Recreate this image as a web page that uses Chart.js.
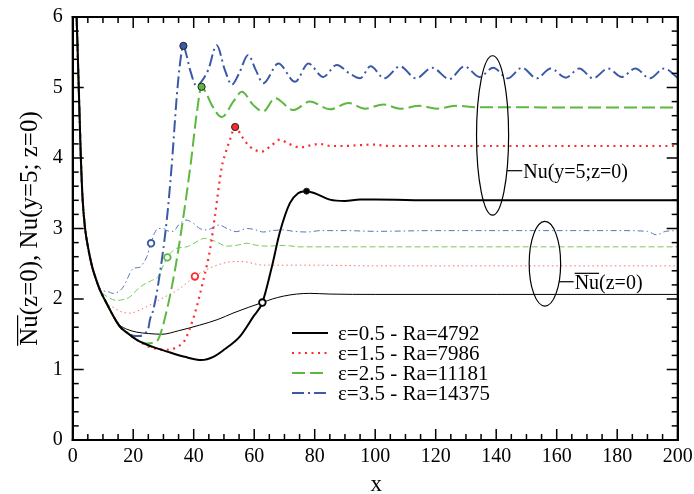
<!DOCTYPE html>
<html>
<head>
<meta charset="utf-8">
<script src="https://cdn.jsdelivr.net/npm/chart.js@4.4.1/dist/chart.umd.min.js"></script>
<style>
  html, body { margin: 0; padding: 0; background: #fff; }
  #wrap { position: relative; width: 694px; height: 494px; }
  #wrap canvas { position: absolute; left: 0; top: 0; display: block; }
  #box { position: absolute; border: 2px solid #000; box-sizing: border-box; pointer-events: none; }
</style>
</head>
<body>
<div id="wrap">
  <canvas id="nuChart" width="694" height="494"></canvas>
  <div id="box"></div>
</div>
<script>
// Nu(y=5;z=0) curves (thick) and mean Nu(z=0) curves (thin)
const xLocal05 = [1.3, 2.0, 2.7, 3.3, 4.1, 5, 6.3, 7.4, 9, 11.2, 13.4, 15.6, 18, 21.2, 26.5, 32.2, 37, 42.6, 46.5, 50,
    55.3, 59.7, 62.7, 65.8, 68.5, 71.8, 74.5, 77.3, 80, 85, 90, 95, 100, 120, 160, 200];
const yLocal05 = [6, 5, 4, 3.4, 3.0, 2.75, 2.48, 2.32, 2.13, 1.94, 1.76, 1.61, 1.52, 1.42, 1.32, 1.24, 1.18, 1.135, 1.18, 1.28,
    1.47, 1.75, 1.95, 2.45, 2.95, 3.36, 3.50, 3.53, 3.50, 3.41, 3.39, 3.41, 3.41, 3.40, 3.40, 3.40];

const xMean05 = [1.3, 2.0, 2.7, 3.3, 4.1, 5, 6.3, 7.4, 9, 11.2, 13.4, 15.6, 18, 21.2, 25, 29.5, 35, 42, 48, 53,
    58, 62.7, 66, 69.6, 74, 78.4, 85, 100, 140, 200];
const yMean05 = [6, 5, 4, 3.4, 3.0, 2.75, 2.48, 2.32, 2.13, 1.94, 1.76, 1.63, 1.57, 1.53, 1.51, 1.50, 1.55, 1.63, 1.71, 1.80,
    1.88, 1.95, 2.00, 2.04, 2.07, 2.08, 2.07, 2.065, 2.065, 2.065];

const xLocal15 = [1.3, 2.0, 2.7, 3.3, 4.1, 5, 6.3, 7.4, 9, 11.2, 13.4, 15.6, 18, 21.2, 26.1, 31.6, 34.5, 37.1, 40.4, 43.2,
    45.4, 47, 49.3, 50.3, 52, 53.7, 56, 58.6, 62.5, 65.5, 68.5, 71.5, 75.1, 78.5, 81.7, 85.5, 89.4, 94, 99, 105,
    120, 160, 200];
const yLocal15 = [6, 5, 4, 3.4, 3.0, 2.75, 2.48, 2.32, 2.13, 1.94, 1.76, 1.61, 1.52, 1.42, 1.31, 1.28, 1.32, 1.42, 1.80, 2.27,
    2.70, 3.17, 3.88, 4.04, 4.26, 4.44, 4.30, 4.16, 4.09, 4.17, 4.26, 4.20, 4.15, 4.18, 4.20, 4.17, 4.17, 4.18, 4.19, 4.17,
    4.17, 4.17, 4.17];

const xMean15 = [1.3, 2.0, 2.7, 3.3, 4.1, 5, 6.3, 7.4, 9, 11.2, 13.4, 16, 18.9, 22, 26.6, 30, 34.4, 37.5, 40.4, 43.5,
    46.5, 50, 53, 56.4, 60, 63, 70, 80, 100, 140, 200];
const yMean15 = [6, 5, 4, 3.4, 3.0, 2.75, 2.48, 2.32, 2.13, 1.94, 1.88, 1.82, 1.80, 1.84, 1.94, 2.02, 2.12, 2.22, 2.32, 2.40,
    2.46, 2.51, 2.53, 2.53, 2.50, 2.48, 2.48, 2.48, 2.47, 2.47, 2.47];

const xLocal25 = [1.3, 2.0, 2.7, 3.3, 4.1, 5, 6.3, 7.4, 9, 11.2, 13.4, 15.6, 18, 21.2, 24.5, 26.5, 28.3, 31.1, 33.8, 36.6,
    39.1, 41, 42.6, 44, 46, 49.3, 53.1, 55.9, 59.7, 63, 66.9, 72.9, 78.4, 85, 91.2, 96.6, 102.7, 108.2, 114.8, 120.3,
    127, 133.6, 140, 170, 200];
const yLocal25 = [6, 5, 4, 3.4, 3.0, 2.75, 2.48, 2.32, 2.13, 1.94, 1.76, 1.61, 1.52, 1.42, 1.37, 1.38, 1.43, 1.84, 2.41, 3.17,
    3.95, 4.63, 5.01, 4.93, 4.75, 4.58, 4.80, 4.94, 4.75, 4.66, 4.85, 4.68, 4.80, 4.69, 4.78, 4.70, 4.76, 4.70, 4.74, 4.70,
    4.74, 4.72, 4.72, 4.715, 4.715];

const xMean25 = [1.3, 2.0, 2.7, 3.3, 4.1, 5, 6.3, 7.4, 9, 10.5, 12.3, 14.5, 16.5, 18.9, 21, 23.3, 26, 28.3, 30, 31.3,
    33, 34.4, 37.7, 40.5, 43.5, 47, 50.9, 54, 57.5, 61, 64, 70, 75, 100, 140, 200];
const yMean25 = [6, 5, 4, 3.4, 3.0, 2.75, 2.48, 2.32, 2.13, 2.06, 2.01, 1.98, 1.99, 2.03, 2.12, 2.20, 2.26, 2.32, 2.48, 2.59,
    2.68, 2.72, 2.74, 2.80, 2.86, 2.82, 2.75, 2.76, 2.79, 2.76, 2.75, 2.76, 2.74, 2.74, 2.74, 2.74];

const xLocal35 = [1.3, 2.0, 2.7, 3.3, 4.1, 5, 6.3, 7.4, 9, 11.2, 13.4, 15.6, 18, 20, 22.2, 24, 25, 25.5, 26.6, 28.3,
    31.1, 32.7, 34.4, 35.5, 36.6, 37.5, 38.8, 41, 42.5, 44.8, 47.6, 50.3, 52.6, 55, 58, 60.5, 63, 68, 73.5, 77.9,
    82.8, 87.3, 91.5, 95, 98.5, 103, 108.2, 113.5, 118.8, 124.5, 129.5, 134.5, 139, 143.8, 148.5, 153.4, 158, 163, 167.5, 172,
    177, 181.5, 186, 190.8, 195.5, 200];
const yLocal35 = [6, 5, 4, 3.4, 3.0, 2.75, 2.48, 2.32, 2.13, 1.94, 1.76, 1.61, 1.52, 1.48, 1.475, 1.52, 1.58, 1.70, 1.84, 2.22,
    3.12, 3.88, 4.87, 5.35, 5.59, 5.48, 5.25, 5.02, 5.08, 5.25, 5.60, 5.25, 5.04, 5.20, 5.46, 5.25, 5.06, 5.34, 5.08, 5.34,
    5.15, 5.32, 5.20, 5.13, 5.30, 5.13, 5.30, 5.13, 5.28, 5.12, 5.30, 5.15, 5.28, 5.13, 5.28, 5.13, 5.27, 5.14, 5.27, 5.13,
    5.27, 5.15, 5.27, 5.13, 5.27, 5.14];

const xMean35 = [1.3, 2.0, 2.7, 3.3, 4.1, 5, 6.3, 7.4, 9, 11.2, 13.4, 15, 16.7, 18.2, 19.5, 20.5, 22.2, 23.5, 24.5, 25.9,
    27, 28.3, 30, 31.1, 33.3, 35, 37.4, 40, 42, 44.3, 48.4, 51, 54, 57.7, 60.5, 63, 66, 69.6, 73, 77.4,
    82, 90, 100, 120, 140, 160, 180, 190, 193, 196, 200];
const yMean35 = [6, 5, 4, 3.4, 3.0, 2.75, 2.48, 2.32, 2.13, 2.11, 2.08, 2.10, 2.17, 2.30, 2.41, 2.44, 2.45, 2.52, 2.60, 2.79,
    2.93, 3.00, 3.00, 2.97, 2.96, 3.05, 3.12, 3.07, 3.00, 2.98, 3.05, 3.00, 2.955, 3.00, 2.98, 2.95, 2.97, 2.98, 2.96, 2.95,
    2.97, 2.97, 2.96, 2.97, 2.97, 2.97, 2.97, 2.96, 2.91, 2.96, 2.97];

// markers: first peak of the local curves, and crossing points on the mean curves
const peakX = [77.3, 53.7, 42.6, 36.6];
const peakY = [3.53, 4.44, 5.01, 5.59];
const markX = [62.7, 40.4, 31.3, 25.9];
const markY = [1.95, 2.32, 2.59, 2.79];

const seriesLabels = ['ε=0.5 - Ra=4792', 'ε=1.5 - Ra=7986', 'ε=2.5 - Ra=11181', 'ε=3.5 - Ra=14375'];
const xTicks = [0, 20, 40, 60, 80, 100, 120, 140, 160, 180, 200];
const yTicks = [0, 1, 2, 3, 4, 5, 6];

const FONT = '"Liberation Serif", "Times New Roman", serif';
const colors = ['#000000', '#ff2a2a', '#5cb840', '#3a5aa8'];
const thinColors = ['#000000', '#ff6a6a', '#78c85c', '#5a74bb'];
const thickDash = [[], [2, 4.5], [13, 5], [12, 4, 2, 4]];
const thinDash = [[], [1.5, 3], [6, 3], [6, 3, 1.5, 3]];

const pts = (xs, ys) => xs.map((x, i) => ({ x: x, y: ys[i] }));

const localData = [pts(xLocal05, yLocal05), pts(xLocal15, yLocal15), pts(xLocal25, yLocal25), pts(xLocal35, yLocal35)];
const meanData = [pts(xMean05, yMean05), pts(xMean15, yMean15), pts(xMean25, yMean25), pts(xMean35, yMean35)];

const lineDatasets = [];
meanData.forEach((d, i) => lineDatasets.push({
    data: d,
    borderColor: thinColors[i],
    borderWidth: 1,
    borderDash: thinDash[i],
    pointRadius: 0,
    cubicInterpolationMode: 'monotone',
    order: 3
}));
localData.forEach((d, i) => lineDatasets.push({
    data: d,
    borderColor: colors[i],
    borderWidth: i === 1 ? 2.2 : 2,
    borderDash: thickDash[i],
    pointRadius: 0,
    cubicInterpolationMode: 'monotone',
    order: 2
}));

const markerDatasets = [
    {
        data: pts(peakX, peakY),
        showLine: false,
        pointRadius: [3, 3.6, 3.6, 3.6],
        pointBackgroundColor: colors,
        pointBorderColor: '#222',
        pointBorderWidth: 1,
        order: 1
    },
    {
        data: pts(markX, markY),
        showLine: false,
        pointRadius: 3.3,
        pointBackgroundColor: '#ffffff',
        pointBorderColor: colors,
        pointBorderWidth: 1.8,
        order: 1
    }
];

function overlined(ctx, bar, rest, x, y, size) {
    ctx.fillText(bar, x, y);
    const w = ctx.measureText(bar).width;
    if (w > 0) ctx.fillRect(x, y - size * 0.8, w, 1.2);
    ctx.fillText(rest, x + w, y);
}

// box round the plot with inward major/minor ticks
function drawFrame(ctx, a, x, y) {
    ctx.save();
    ctx.fillStyle = '#000';
    for (let v = 0; v <= 200; v += 5) {
        const px = x.getPixelForValue(v);
        const len = v % 20 === 0 ? 11 : 6;
        ctx.fillRect(px - 0.75, a.bottom - len, 1.5, len);
        ctx.fillRect(px - 0.75, a.top, 1.5, len);
    }
    for (let i = 0; i <= 30; i++) {
        const py = y.getPixelForValue(i * 0.2);
        const len = i % 5 === 0 ? 11 : 6;
        ctx.fillRect(a.left, py - 0.75, len, 1.5);
        ctx.fillRect(a.right - len, py - 0.75, len, 1.5);
    }
    ctx.fillRect(a.left - 1, a.top - 1, a.right - a.left + 2, 2);
    ctx.fillRect(a.left - 1, a.bottom - 1, a.right - a.left + 2, 2);
    ctx.fillRect(a.left - 1, a.top - 1, 2, a.bottom - a.top + 2);
    ctx.fillRect(a.right - 1, a.top - 1, 2, a.bottom - a.top + 2);
    ctx.restore();
}

// frame, axis titles, legend and ellipse labels
const decor = {
    id: 'decor',
    afterDraw(chart) {
        const { ctx, chartArea: a, scales: { x, y } } = chart;
        drawFrame(ctx, a, x, y);
        ctx.save();
        ctx.strokeStyle = '#000';
        ctx.fillStyle = '#000';

        // ellipses round the two groups of curves
        ctx.lineWidth = 1.2;
        const groups = [
            { cx: 138.8, cy: 4.32, rx: 5.3, ry: 1.13, ly: 3.82, tx: 148.6, bar: '', text: 'Nu(y=5;z=0)' },
            { cx: 156.1, cy: 2.50, rx: 5.2, ry: 0.60, ly: 2.245, tx: 165.6, bar: 'Nu', text: '(z=0)' }
        ];
        ctx.font = '20px ' + FONT;
        ctx.textBaseline = 'alphabetic';
        ctx.textAlign = 'left';
        groups.forEach(g => {
            const cx = x.getPixelForValue(g.cx);
            const cy = y.getPixelForValue(g.cy);
            const rx = x.getPixelForValue(g.cx + g.rx) - cx;
            const ry = cy - y.getPixelForValue(g.cy + g.ry);
            ctx.beginPath();
            ctx.ellipse(cx, cy, rx, ry, 0, 0, Math.PI * 2);
            ctx.stroke();
            const ly = y.getPixelForValue(g.ly);
            const dx = rx * Math.sqrt(1 - Math.pow((ly - cy) / ry, 2));
            const tx = x.getPixelForValue(g.tx);
            ctx.beginPath();
            ctx.moveTo(cx + dx, ly);
            ctx.lineTo(tx, ly);
            ctx.stroke();
            overlined(ctx, g.bar, g.text, tx + 1, ly + 7, 20);
        });

        // legend
        ctx.font = '21px ' + FONT;
        seriesLabels.forEach((label, i) => {
            const ly = 333 + i * 20;
            ctx.save();
            ctx.strokeStyle = colors[i];
            ctx.lineWidth = 2;
            ctx.setLineDash(thickDash[i]);
            ctx.beginPath();
            ctx.moveTo(292, ly);
            ctx.lineTo(328, ly);
            ctx.stroke();
            ctx.restore();
            ctx.textBaseline = 'middle';
            ctx.fillText(label, 338, ly + 1);
        });

        // axis titles
        ctx.textBaseline = 'alphabetic';
        ctx.font = '23px ' + FONT;
        ctx.textAlign = 'center';
        ctx.fillText('x', (a.left + a.right) / 2 + 1, 491);

        ctx.font = '25px ' + FONT;
        ctx.textAlign = 'left';
        const bar = 'Nu', rest = '(z=0), Nu(y=5; z=0)';
        const total = ctx.measureText(bar + rest).width;
        ctx.translate(37, (a.top + a.bottom) / 2);
        ctx.rotate(-Math.PI / 2);
        overlined(ctx, bar, rest, -total / 2, 0, 25);
        ctx.restore();
    }
};

const chart = new Chart(document.getElementById('nuChart'), {
    type: 'line',
    data: { datasets: [...markerDatasets, ...lineDatasets] },
    options: {
        responsive: false,
        animation: false,
        events: [],
        layout: { padding: { top: 17, right: 16.3, left: 0, bottom: 0 } },
        plugins: { legend: { display: false }, tooltip: { enabled: false } },
        scales: {
            x: {
                type: 'linear',
                min: 0,
                max: 200,
                afterFit: s => { s.height = 54; s.paddingLeft = 0; s.paddingRight = 0; },
                afterBuildTicks: s => { s.ticks = xTicks.map(v => ({ value: v })); },
                grid: { display: false, drawTicks: false },
                border: { display: false },
                ticks: { color: '#000', padding: 5, maxRotation: 0, font: { family: FONT, size: 20 } }
            },
            y: {
                type: 'linear',
                min: 0,
                max: 6,
                afterFit: s => { s.width = 72.7; s.paddingTop = 0; s.paddingBottom = 0; },
                afterBuildTicks: s => { s.ticks = yTicks.map(v => ({ value: v })); },
                grid: { display: false, drawTicks: false },
                border: { display: false },
                ticks: { color: '#000', padding: 10, font: { family: FONT, size: 20 } }
            }
        }
    },
    plugins: [decor]
});

// plot box as a bordered element placed on the chart area
const area = chart.chartArea;
const box = document.getElementById('box');
box.style.left = (area.left - 1) + 'px';
box.style.top = (area.top - 1) + 'px';
box.style.width = (area.right - area.left + 2) + 'px';
box.style.height = (area.bottom - area.top + 2) + 'px';
</script>
</body>
</html>
